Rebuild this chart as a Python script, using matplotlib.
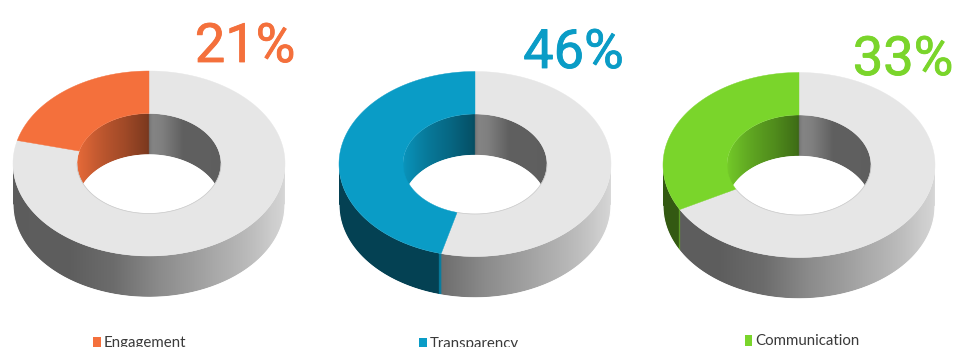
import numpy as np
import matplotlib
matplotlib.use("Agg")
import matplotlib.pyplot as plt
import matplotlib.patheffects as pe
from matplotlib.colors import to_rgb
from matplotlib.patches import Polygon, Rectangle

labels = ["Engagement", "Transparency", "Communication"]
values = [21, 46, 33]
colors = ["#F4703C", "#0A9CC6", "#7AD52B"]

# ring geometry, in figure pixels
centers = [(149, 163.5), (475, 164), (799, 165)]
RX, RY = 136, 92.5
HX, HY = 72, 50
DEPTH = 41
BASE = "#E6E6E6"

# where the percentages and legend entries go
pct_pos = [(245, 62), (573.5, 68), (903, 75)]
key_pos = [(93, 337, 8, 10), (419, 338, 8, 9), (745, 335, 7, 11)]
key_txt = [(104, 347), (430, 348), (755, 345)]

fig = plt.figure(figsize=(9.56, 3.47), dpi=100)
ax = fig.add_axes([0, 0, 1, 1])
ax.set_xlim(0, 956)
ax.set_ylim(347, 0)
ax.axis("off")


def ell(c, rx, ry, th, dy=0):
    t = np.radians(th)
    return np.column_stack([c[0] + rx * np.sin(t), c[1] - ry * np.cos(t) + dy])


def wall(c, rx, ry, th0, th1, rgb):
    # the wall's strips are vertical so its shading only changes along x
    th = np.linspace(th0, th1, 200)
    outline = np.vstack([ell(c, rx, ry, th), ell(c, rx, ry, th[::-1], DEPTH)])
    clip = Polygon(outline, closed=True, transform=ax.transData)
    im = ax.imshow(rgb[np.newaxis, :, :], extent=(c[0] - rx, c[0] + rx, c[1] + 200, c[1] - 200),
                   aspect="auto", interpolation="bilinear", zorder=2)
    im.set_clip_path(clip)


def outer_shade(start, col):
    x = np.linspace(-1, 1, 800)
    th = 180 - np.degrees(np.arcsin(x))
    g = np.interp(th, [90, 115, 150, 175, 195, 215, 270], [218, 205, 170, 140, 108, 94, 92]) / 255.0
    rgb = np.column_stack([g, g, g])
    k = np.where(th < start + 1.0, 0.8, 0.42)
    mask = th > start
    rgb[mask] = np.outer(k[mask], to_rgb(col))
    return rgb


def inner_shade(col):
    x = np.linspace(-1, 1, 500)
    th = np.degrees(np.arcsin(x))
    g = np.interp(th, [0, 3, 10, 28, 90], [118, 132, 128, 96, 94]) / 255.0
    rgb = np.column_stack([g, g, g])
    left = th < 0
    k = np.interp(th[left] + 360, [270, 300, 340, 358, 360], [0.98, 0.88, 0.66, 0.52, 0.48])
    rgb[left] = np.outer(k, to_rgb(col))
    return rgb


for c, v, col in zip(centers, values, colors):
    start = 360 - v * 3.6

    wall(c, RX, RY, 90, 270, outer_shade(start, col))
    wall(c, HX, HY, -90, 90, inner_shade(col))

    # softens the stepped lower edge of the outer wall
    th = np.linspace(90, 270, 240)
    ax.plot(*ell(c, RX, RY, th, DEPTH + 0.4).T, color="white", lw=0.8, zorder=2.5)
    # and the edge where the far wall meets the opening
    th = np.linspace(-90, 90, 200)
    ax.plot(*ell(c, HX, HY, th, DEPTH + 0.4).T, color="white", lw=0.8, zorder=2.5)

    # flat top of the ring
    for t0, t1, fc in [(0, start, BASE), (start, 360, col)]:
        th = np.linspace(t0, t1, 200)
        pts = np.vstack([ell(c, RX, RY, th), ell(c, HX, HY, th[::-1])])
        ax.add_patch(Polygon(pts, closed=True, fc=fc, ec=fc, lw=0.3, zorder=3))
    # hairline round the opening, on the grey side only
    th = np.linspace(90, min(start, 270), 120)
    ax.plot(*ell(c, HX, HY, th).T, color="#C9C9C9", lw=0.5, zorder=4)

ax.set_xlim(0, 956)
ax.set_ylim(347, 0)

for lab, v, col, p, kp, tp in zip(labels, values, colors, pct_pos, key_pos, key_txt):
    ax.text(p[0], p[1], f"{v}%", color=col, fontsize=39, family="Roboto",
            ha="center", va="baseline",
            path_effects=[pe.withStroke(linewidth=0.6, foreground=col, joinstyle="round",
                                        capstyle="round")], zorder=5)
    ax.add_patch(Rectangle(kp[:2], kp[2], kp[3], fc=col, ec="none", zorder=5))
    ax.text(tp[0], tp[1], lab, color="#3A3A3A", fontsize=10.8, family="Lato", ha="left", va="baseline",
            zorder=5)

fig.savefig("out.png", dpi=100, facecolor="white")
